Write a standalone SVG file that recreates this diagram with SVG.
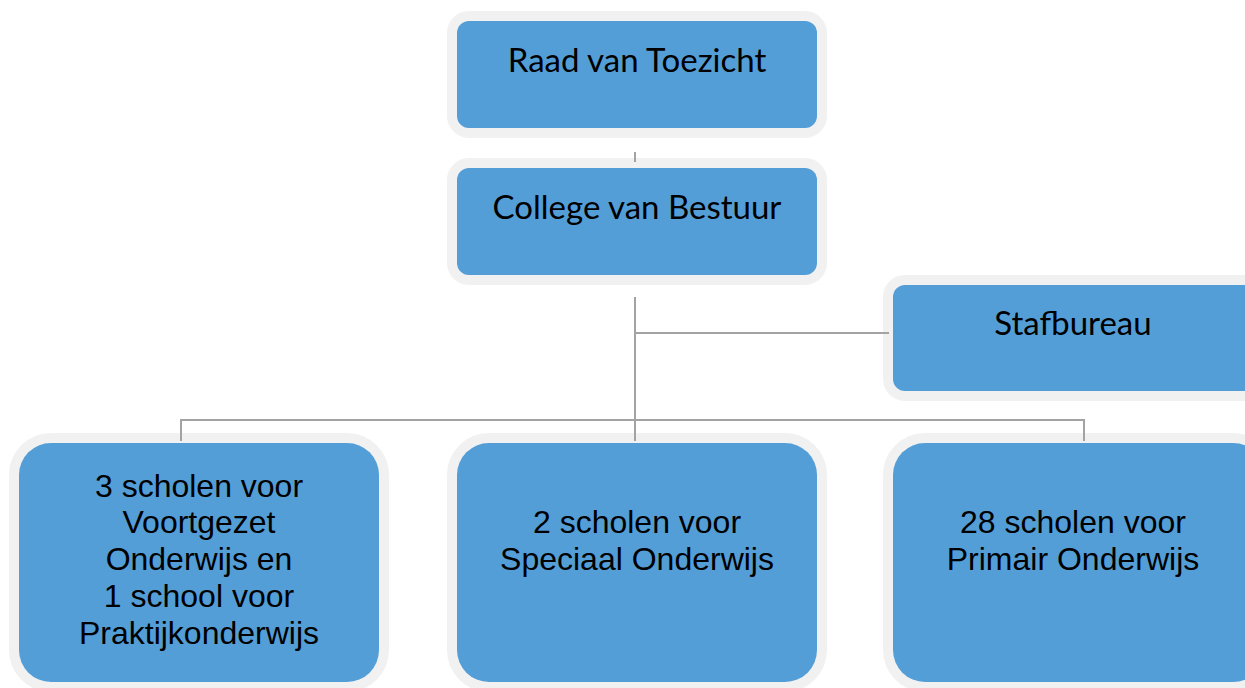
<svg xmlns="http://www.w3.org/2000/svg" width="1245" height="688" viewBox="0 0 1245 688">
<style>
.box{fill:#549ED7;stroke:#F1F1F1;stroke-width:20;paint-order:stroke}
.t1{font-family:Lato,"Open Sans",sans-serif;font-size:33px;fill:#000;text-anchor:middle}
.t2{font-family:"Liberation Sans",Arial,sans-serif;font-size:32px;fill:#000;text-anchor:middle}
.ln{stroke:#A3A3A3;stroke-width:2;fill:none}
</style>
<rect width="1245" height="688" fill="#fff"/>
<g id="raad"><rect class="box" x="457" y="21" width="360" height="107" rx="12"/><text class="t1" x="637" y="72">Raad van Toezicht</text></g>
<g id="college"><rect class="box" x="457" y="168" width="360" height="107" rx="12"/><text class="t1" x="637" y="219">College van Bestuur</text></g>
<g id="stafbureau"><rect class="box" x="893" y="285" width="372" height="106" rx="12"/><text class="t1" x="1073" y="335">Stafbureau</text></g>
<g id="vo"><rect class="box" x="19" y="443" width="360" height="239" rx="32"/><text class="t2" x="199" y="497">3 scholen voor</text><text class="t2" x="199" y="533">Voortgezet</text><text class="t2" x="199" y="570">Onderwijs en</text><text class="t2" x="199" y="607">1 school voor</text><text class="t2" x="199" y="644">Praktijkonderwijs</text></g>
<g id="so"><rect class="box" x="457" y="443" width="360" height="239" rx="32"/><text class="t2" x="637" y="533">2 scholen voor</text><text class="t2" x="637" y="570">Speciaal Onderwijs</text></g>
<g id="po"><rect class="box" x="893" y="443" width="372" height="239" rx="32"/><text class="t2" x="1073" y="533">28 scholen voor</text><text class="t2" x="1073" y="570">Primair Onderwijs</text></g>
<g id="connectors">
<path class="ln" d="M635 152V162"/>
<path class="ln" d="M635 297V441"/>
<path class="ln" d="M635 333H889"/>
<path class="ln" d="M181 441V420H1084V441"/>
</g>
</svg>
